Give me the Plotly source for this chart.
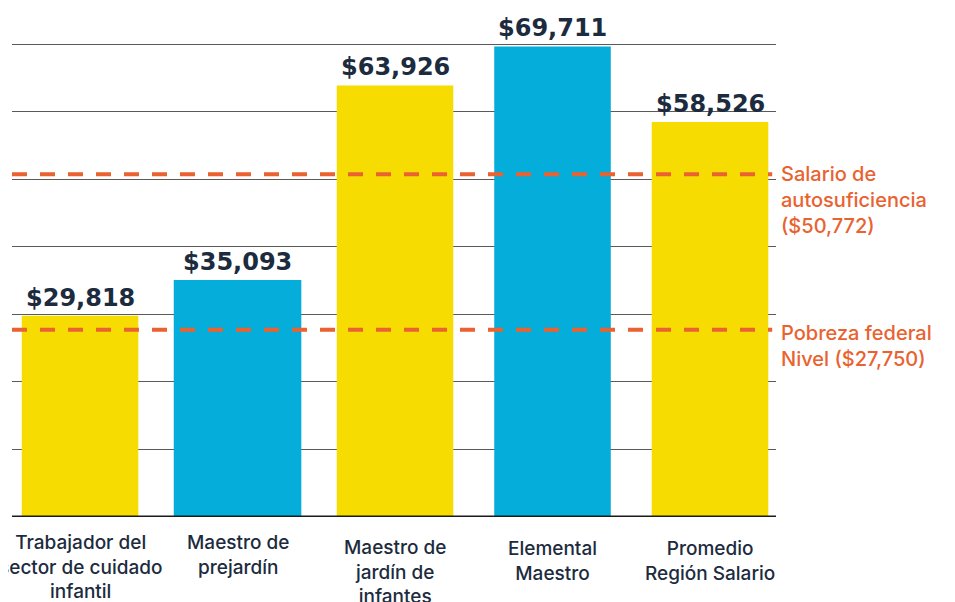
import plotly.graph_objects as go

categories = [
    "Trabajador del<br>sector de cuidado<br>infantil",
    "Maestro de<br>prejardín",
    "Maestro de<br>jardín de<br>infantes",
    "Elemental<br>Maestro",
    "Promedio<br>Región Salario",
]
salaries = [29818, 35093, 63926, 69711, 58526]
value_labels = ["$29,818", "$35,093", "$63,926", "$69,711", "$58,526"]
self_sufficiency = 50772
poverty_level = 27750
ref_labels = ["Salario de<br>autosuficiencia<br>($50,772)", "Pobreza federal<br>Nivel ($27,750)"]

YELLOW = "#F6DC00"
BLUE = "#05ADDA"
ORANGE = "#E9622F"
NAVY = "#1C2B3E"

bar_colors = [YELLOW, BLUE, YELLOW, BLUE, YELLOW]
bar_widths = [0.74, 0.81, 0.74, 0.74, 0.74]
label_shift = [-12, -12, -17, -18, -18]

x = list(range(len(categories)))

fig = go.Figure()
fig.add_trace(go.Bar(
    x=x, y=salaries, marker=dict(color=bar_colors, line=dict(width=0)),
    width=bar_widths, hoverinfo="skip", showlegend=False,
))

# value labels
for xi, v, t in zip(x, salaries, value_labels):
    fig.add_annotation(x=xi, y=v, text=f"<b>{t}</b>", showarrow=False,
                       yanchor="bottom", yshift=2,
                       font=dict(family="DejaVu Sans", size=24, color=NAVY))

# category labels
for xi, c, s in zip(x, categories, label_shift):
    fig.add_annotation(x=xi, y=0, text=c, showarrow=False, yanchor="top",
                       yshift=s, align="center",
                       font=dict(family="Inter, sans-serif", size=19, color=NAVY, weight=500))

# reference lines
for val, lab, ys in zip([self_sufficiency, poverty_level], ref_labels, [14, 11]):
    fig.add_shape(type="line", xref="paper", x0=0, x1=0.995, y0=val, y1=val,
                  line=dict(color=ORANGE, width=4, dash="15px,13px"), layer="above")
    fig.add_annotation(xref="paper", x=1, y=val, text=lab, showarrow=False,
                       xanchor="left", yanchor="top", yshift=ys, xshift=3,
                       align="left",
                       font=dict(family="Inter, sans-serif", size=20, color=ORANGE, weight=500))

# baseline
fig.add_shape(type="line", xref="paper", x0=0, x1=1, y0=0, y1=0,
              line=dict(color="#1a1a1a", width=3), layer="above")

fig.update_layout(
    width=947, height=594,
    margin=dict(l=4, r=179, t=29, b=85),
    paper_bgcolor="white", plot_bgcolor="white",
    bargap=0.2,
    xaxis=dict(range=[-0.432, 4.419], showticklabels=False, showgrid=False,
               zeroline=False, showline=False, fixedrange=True),
    yaxis=dict(range=[0, 71100], dtick=10000, showticklabels=False,
               showgrid=True, gridcolor="#5a5a5a", gridwidth=1.2,
               zeroline=False, showline=False, fixedrange=True),
)

fig.write_html("out.html")
